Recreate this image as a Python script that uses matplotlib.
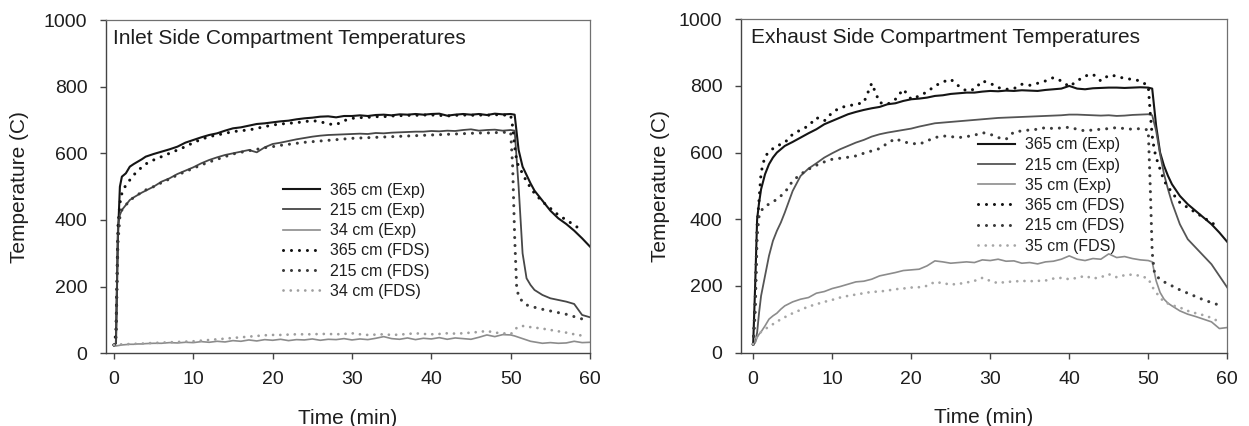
import numpy as np
import matplotlib
matplotlib.use("Agg")
import matplotlib.pyplot as plt

plt.rcParams['font.family'] = ['Liberation Sans', 'DejaVu Sans']

# ---- time bases (min) ----
t_exp = [0, 0.25, 0.5, 0.75, 1, 1.5, 2, 2.5, 3, 3.5, 4,
         5, 6, 7, 8, 9, 10, 11, 12, 13, 14, 15, 16, 17, 18, 19, 20,
         21, 22, 23, 24, 25, 26, 27, 28, 29, 30, 31, 32, 33, 34, 35,
         36, 37, 38, 39, 40, 41, 42, 43, 44, 45, 46, 47, 48, 49, 50,
         50.5, 51, 51.5, 52, 52.5, 53, 54, 55, 56, 57, 58, 59, 60]
t_fds = [0, 0.25, 0.5, 0.75, 1, 1.5, 2, 2.5, 3, 3.5, 4,
         5, 6, 7, 8, 9, 10, 11, 12, 13, 14, 15, 16, 17, 18, 19, 20,
         21, 22, 23, 24, 25, 26, 27, 28, 29, 30, 31, 32, 33, 34, 35,
         36, 37, 38, 39, 40, 41, 42, 43, 44, 45, 46, 47, 48, 49, 50,
         50.25, 50.5, 50.75, 51, 51.5, 52, 53, 54, 55, 56, 57, 58, 59]

# ---- inlet side (C) ----
in_exp_365 = [25, 30, 350, 500, 530, 540, 560, 568, 575, 582, 590,
              598, 605, 612, 620, 632, 640, 648, 655, 660, 668, 675, 678, 683, 688, 690, 693,
              696, 698, 702, 705, 707, 710, 711, 708, 712, 712, 714, 712, 715, 716, 714,
              717, 716, 718, 716, 718, 719, 713, 716, 718, 716, 718, 715, 719, 717, 718,
              716, 610, 560, 535, 510, 488, 458, 428, 405, 388, 368, 345, 320]
in_exp_215 = [25, 30, 380, 415, 430, 445, 460, 468, 475, 482, 488,
              500, 515, 525, 538, 548, 558, 570, 580, 588, 595, 600, 605, 610, 603, 618, 628,
              632, 637, 642, 646, 650, 653, 655, 656, 657, 658, 659, 658, 661, 660, 662,
              663, 664, 665, 665, 667, 666, 668, 667, 670, 672, 668, 670, 671, 668, 670,
              668, 500, 300, 225, 205, 190, 175, 165, 160, 155, 148, 115, 108]
in_exp_34 = [22, 22, 23, 24, 25, 26, 27, 27, 28, 28, 29,
             30, 30, 32, 31, 33, 32, 35, 33, 36, 34, 38, 36, 40, 37, 41, 39,
             42, 38, 41, 40, 43, 39, 42, 41, 44, 40, 43, 41, 45, 50, 44,
             42, 46, 41, 45, 43, 47, 42, 46, 44, 42, 48, 55, 50, 56, 55,
             52, 48, 44, 40, 36, 34, 30, 32, 30, 31, 36, 32, 33]
in_fds_365 = [25, 60, 380, 450, 480, 505, 520, 535, 548, 558, 568,
              580, 590, 600, 610, 620, 632, 642, 650, 655, 660, 665, 668, 670, 675, 680, 685,
              688, 690, 692, 695, 698, 695, 688, 686, 698, 705, 707, 708, 710, 710, 712,
              713, 714, 714, 715, 715, 714, 712, 714, 715, 714, 715, 714, 716, 715, 714,
              680, 620, 580, 560, 540, 515, 480, 455, 435, 415, 400, 385, 368]
in_fds_215 = [25, 40, 330, 410, 430, 445, 458, 468, 476, 483, 490,
              500, 512, 523, 535, 545, 555, 565, 574, 582, 590, 598, 603, 608, 612, 617, 620,
              624, 627, 630, 633, 635, 637, 639, 641, 643, 645, 646, 647, 648, 649, 650,
              651, 652, 653, 654, 655, 656, 657, 658, 659, 660, 661, 661, 662, 663, 663,
              560, 350, 200, 170, 155, 145, 138, 132, 127, 122, 117, 110, 103]
in_fds_34 = [25, 25, 26, 26, 27, 27, 28, 28, 29, 29, 30,
             31, 32, 33, 34, 35, 36, 38, 40, 42, 44, 46, 48, 50, 52, 54, 55,
             55, 56, 57, 57, 57, 58, 58, 57, 58, 60, 57, 55, 56, 57, 55,
             56, 58, 60, 58, 57, 58, 60, 59, 60, 62, 64, 67, 62, 60, 58,
             62, 70, 76, 80, 82, 80, 77, 74, 70, 66, 62, 57, 53]

# ---- exhaust side (C) ----
ex_exp_365 = [25, 200, 400, 450, 490, 535, 565, 585, 600, 610, 620,
              632, 645, 658, 670, 685, 695, 705, 715, 722, 728, 733, 737, 745, 748, 755, 760,
              762, 765, 770, 772, 776, 778, 780, 780, 783, 785, 784, 786, 785, 787, 786,
              785, 788, 790, 792, 800, 792, 790, 793, 794, 795, 795, 794, 795, 796, 795,
              792, 680, 600, 560, 530, 505, 470, 445, 425, 405, 385, 360, 332]
ex_exp_215 = [25, 30, 60, 120, 170, 230, 290, 335, 365, 390, 420,
              485, 530, 552, 568, 585, 598, 610, 620, 630, 638, 648, 655, 660, 664, 668, 672,
              678, 683, 688, 690, 692, 694, 696, 698, 700, 702, 704, 705, 706, 707, 708,
              709, 710, 711, 712, 714, 714, 713, 712, 711, 712, 710, 711, 713, 714, 715,
              712, 665, 595, 535, 490, 450, 385, 340, 315, 290, 265, 230, 195]
ex_exp_35 = [25, 30, 45, 55, 62, 80, 100, 110, 118, 130, 140,
             152, 160, 165, 178, 183, 192, 198, 205, 212, 214, 220, 230, 235, 240, 246, 248,
             250, 260, 275, 272, 268, 270, 272, 270, 278, 276, 280, 274, 275, 268, 270,
             266, 272, 274, 280, 290, 280, 276, 282, 280, 296, 285, 288, 282, 278, 276,
             272, 215, 180, 160, 148, 140, 125, 115, 108, 100, 92, 72, 75]
ex_fds_365 = [25, 150, 380, 460, 540, 590, 600, 612, 620, 625, 630,
              655, 668, 680, 705, 695, 720, 735, 740, 745, 750, 808, 750, 745, 760, 790, 760,
              770, 782, 800, 812, 820, 800, 785, 790, 815, 808, 795, 790, 792, 805, 802,
              808, 815, 825, 815, 798, 815, 830, 835, 815, 832, 830, 822, 820, 815, 800,
              720, 650, 610, 585, 550, 515, 480, 450, 435, 420, 405, 390, 375]
ex_fds_215 = [25, 120, 350, 410, 425, 440, 445, 452, 460, 470, 480,
              515, 535, 550, 562, 572, 580, 583, 586, 590, 598, 605, 612, 628, 642, 632, 628,
              625, 635, 645, 650, 648, 645, 648, 652, 660, 655, 645, 640, 662, 665, 668,
              670, 675, 672, 674, 676, 670, 665, 668, 670, 672, 675, 672, 670, 672, 668,
              500, 300, 245, 230, 220, 212, 200, 188, 178, 168, 158, 150, 142]
ex_fds_35 = [25, 35, 50, 55, 62, 70, 78, 85, 92, 100, 106,
             118, 128, 138, 145, 152, 158, 165, 170, 174, 178, 182, 183, 186, 190, 192, 195,
             196, 200, 212, 208, 204, 206, 210, 215, 224, 215, 208, 212, 213, 215, 214,
             215, 216, 222, 224, 220, 224, 230, 222, 226, 235, 226, 232, 234, 230, 222,
             210, 198, 188, 180, 165, 152, 142, 135, 125, 118, 112, 104, 92]

titles = ["Inlet Side Compartment Temperatures", "Exhaust Side Compartment Temperatures"]
x_ticks = [0, 10, 20, 30, 40, 50, 60]
y_ticks = [0, 200, 400, 600, 800, 1000]

DOT = (0, (0.01, 2.6))
TXT = '#1e1e1e'

panels = [
    dict(rect=[0.0845, 0.1707, 0.3879, 0.7823], xmin=-1.06, title=titles[0],
         title_x=0.016, ylab_x=-0.178, leg=(0.367, 0.512),
         series=[
             (t_exp, in_exp_365, '365 cm (Exp)', '#151515', 1.5, '-'),
             (t_exp, in_exp_215, '215 cm (Exp)', '#474747', 1.3, '-'),
             (t_exp, in_exp_34, '34 cm (Exp)', '#8c8c8c', 1.2, '-'),
             (t_fds, in_fds_365, '365 cm (FDS)', '#111111', 2.2, DOT),
             (t_fds, in_fds_215, '215 cm (FDS)', '#3a3a3a', 2.2, DOT),
             (t_fds, in_fds_34, '34 cm (FDS)', '#9e9e9e', 2.0, DOT),
         ]),
    dict(rect=[0.5929, 0.1725, 0.3897, 0.7822], xmin=-1.6, title=titles[1],
         title_x=0.0205, ylab_x=-0.165, leg=(0.4885, 0.646),
         series=[
             (t_exp, ex_exp_365, '365 cm (Exp)', '#151515', 1.5, '-'),
             (t_exp, ex_exp_215, '215 cm (Exp)', '#555555', 1.3, '-'),
             (t_exp, ex_exp_35, '35 cm (Exp)', '#8c8c8c', 1.2, '-'),
             (t_fds, ex_fds_365, '365 cm (FDS)', '#111111', 2.2, DOT),
             (t_fds, ex_fds_215, '215 cm (FDS)', '#3a3a3a', 2.2, DOT),
             (t_fds, ex_fds_35, '35 cm (FDS)', '#a6a6a6', 2.0, DOT),
         ]),
]

fig = plt.figure(figsize=(12.49, 4.26), dpi=100)
fig.patch.set_facecolor('white')

for p in panels:
    ax = fig.add_axes(p['rect'])
    for t, y, lab, col, lw, ls in p['series']:
        ln, = ax.plot(t, y, color=col, lw=lw, linestyle=ls, label=lab)
        if ls != '-':
            ln.set_dash_capstyle('round')
    ax.set_xlim(p['xmin'], 60)
    ax.set_ylim(0, 1000)
    ax.set_xticks(x_ticks)
    ax.set_yticks(y_ticks)
    ax.tick_params(direction='out', length=4, width=1, color='#444444',
                   labelsize=14, labelcolor=TXT)
    ax.tick_params(axis='x', pad=9)
    ax.tick_params(axis='y', pad=9)
    for side in ['left', 'bottom']:
        ax.spines[side].set_color('#444444')
        ax.spines[side].set_linewidth(1.0)
    for side in ['top', 'right']:
        ax.spines[side].set_color('#707070')
        ax.spines[side].set_linewidth(0.9)
    ax.set_xlabel('Time (min)', fontsize=15, color=TXT)
    ax.set_ylabel('Temperature (C)', fontsize=15, color=TXT)
    ax.xaxis.set_label_coords(0.5, -0.167)
    ax.yaxis.set_label_coords(p['ylab_x'], 0.5)
    ax.yaxis.label.set_va('center')
    ax.text(p['title_x'], 0.928, p['title'], transform=ax.transAxes,
            fontsize=15, color=TXT, va='baseline', ha='left')
    leg = ax.legend(loc='upper left', bbox_to_anchor=p['leg'], frameon=False,
                    fontsize=11.5, borderpad=0, borderaxespad=0, handlelength=2.3,
                    handletextpad=0.6, labelspacing=0.33)
    for txt in leg.get_texts():
        txt.set_color(TXT)
    for h in leg.get_lines():
        h.set_dash_capstyle('round')

fig.savefig('out.png', dpi=100, facecolor='white')
